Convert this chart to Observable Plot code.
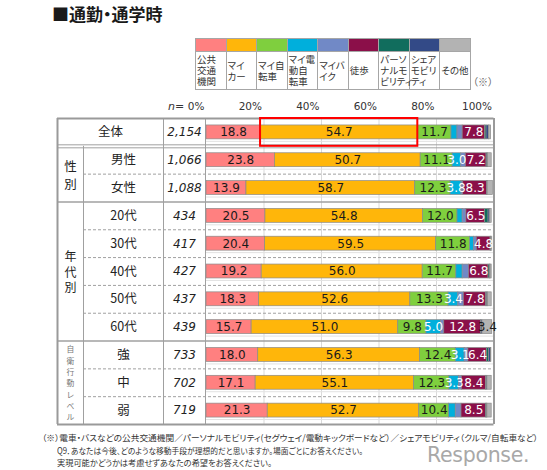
<!DOCTYPE html>
<html><head><meta charset="utf-8">
<script src="https://cdn.jsdelivr.net/npm/d3@7"></script>
<script src="https://cdn.jsdelivr.net/npm/@observablehq/plot@0.6"></script>
<style>
html,body{margin:0;padding:0;background:#fff}
body{width:547px;height:470px;position:relative;overflow:hidden;font-family:"Noto Sans CJK JP",sans-serif;font-feature-settings:"palt";color:#222}
#chart{position:absolute;left:0;top:0}
.abs{position:absolute;white-space:nowrap}
#title{left:52px;top:1px;font-size:17px;font-weight:bold;color:#1a1a1a}
#legend{position:absolute;left:195px;top:38px;border-collapse:collapse;table-layout:fixed;width:276px}
#legend td{border:1px solid #a6a6a6;padding:0 0 0 1px;font-size:9.5px;line-height:11px;vertical-align:middle;white-space:pre;overflow:visible;color:#333}
#legend tr.sw td{height:12px}
#legend tr.lb td{height:37px}
#note{left:473px;top:74px;font-size:10px;color:#666}
#nlabel{left:168px;top:101px;font-size:11px;line-height:12px;font-style:italic;font-family:"DejaVu Sans",sans-serif;color:#333}
.foot{font-size:8.5px;line-height:12.3px;color:#333;transform-origin:0 0}
#f1{left:42px;top:431px}
#f2{left:57px;top:443.6px}
#f3{left:57px;top:456.2px}
#logo{left:427px;top:449px;font-family:"DejaVu Sans",sans-serif;font-size:20.5px;line-height:12px;color:#a8a8a8;letter-spacing:-0.3px}
</style>
</head><body>
<div id="chart"></div>
<script>
// ---- data ----
const categories = ["全体","男性","女性","20代","30代","40代","50代","60代","強","中","弱"];
const sampleSizes = ["2,154","1,066","1,088","434","417","427","437","439","733","702","719"];
const groupLabels = ["性\n別","年\n代\n別","自\n衛\n行\n動\nレ\nベ\nル"];
const groupStart = [1,3,8];
const groupEnd = [3,8,11];

const modes = ["公共交通機関","マイカー","マイ自転車","マイ電動自転車","マイバイク","徒歩","パーソナルモビリティ","シェアモビリティ","その他"];
const legendLabels = ["公共\n交通\n機関","マイ\nカー","マイ自\n転車","マイ電\n動自\n転車","マイバ\nイク","徒歩","パーソ\nナルモ\nビリティ","シェア\nモビリ\nティ","その他"];
const colors = ["#ff8080","#ffb60a","#7fcf3e","#00afdc","#7189c6","#8b0f49","#116d5d","#334a87","#b3b3b3"];

const publicTransit    = [18.8,23.8,13.9,20.5,20.4,19.2,18.3,15.7,18.0,17.1,21.3];
const myCar            = [54.7,50.7,58.7,54.8,59.5,56.0,52.6,51.0,56.3,55.1,52.7];
const myBicycle        = [11.7,11.1,12.3,12.0,11.8,11.7,13.3, 9.8,12.4,12.3,10.4];
const myEBike          = [ 2.1, 3.0, 3.8, 1.8, 1.3, 2.2, 3.4, 5.0, 3.1, 3.3, 2.3];
const myMotorbike      = [ 1.8, 1.6, 0.6, 1.3, 1.0, 2.2, 1.9, 1.2, 1.3, 1.0, 2.0];
const walking          = [ 7.8, 7.2, 8.3, 6.5, 4.8, 6.8, 7.8,12.8, 6.4, 8.4, 8.5];
const personalMobility = [ 0.5, 0.3, 0.1, 1.2, 0.2, 0.5, 0.3, 0.1, 0.8, 0.2, 0.3];
const sharedMobility   = [ 0.8, 0.2, 0.1, 0.5, 0.1, 0.2, 0.3, 0.4, 0.6, 0.3, 0.2];
const other            = [ 0.8, 1.3, 1.8, 0.6, 0.3, 0.4, 1.3, 3.4, 0.2, 1.5, 1.5];

const xTicks = [0,20,40,60,80,100];
const titleText = "■通勤・通学時";
const footLines = [
  "（※）電車・バスなどの公共交通機関／パーソナルモビリティ(セグウェイ/電動キックボードなど）／シェアモビリティ（クルマ/自転車など）",
  "Q9．あなたは今後、どのような移動手段が理想的だと思いますか。場面ごとにお答えください。",
  "実現可能かどうかは考慮せずあなたの希望をお答えください。"
];

// ---- layout ----
const W = 547, H = 470;
const ML = 206, MR = 53.5, MT = 118, MB = 46;
const col = {left:57, group:83, cat:163, n:205};
const X = p => (p - ML) / (W - MR - ML) * 100; // table pixel position -> x units
const whiteLabel = new Set([3,4,5,6,7]);
const footWidths = [496, 306, 215];

const seriesValues = [publicTransit,myCar,myBicycle,myEBike,myMotorbike,walking,personalMobility,sharedMobility,other];
const segments = [];
categories.forEach((c,i) => {
  let cum = 0;
  seriesValues.forEach((vals,s) => {
    const v = vals[i];
    segments.push({row:i, s, mode:modes[s], value:v, x1:cum, x2:cum+v});
    cum += v;
  });
});
const labeled = segments.filter(d => d.value >= 3);
const rowsIdx = categories.map((c,i) => i);
const gridC = "#a0a0a0";
const nRows = categories.length;
const dashedB = [2,4,5,6,7,9,10];
const solidB = [3,8];
const gx = X((col.left+col.group)/2);

const chart = Plot.plot({
  width: W, height: H,
  marginLeft: ML, marginRight: MR, marginTop: MT, marginBottom: MB,
  x: {domain:[0,100], axis:null},
  y: {domain:[0,nRows], reverse:true, axis:null},
  color: {domain: modes, range: colors},
  style: {fontFamily:'"Noto Sans CJK JP", sans-serif', fontSize:"12.5px", color:"#222", background:"transparent", overflow:"visible"},
  marks: [
    Plot.ruleX([20,40,60,80], {y1:0, y2:nRows, stroke:"#d9d9d9", strokeWidth:1}),
    Plot.ruleY(rowsIdx, {y: i => i + 0.75, x1:0, x2:100, dy:2, stroke:"#e2e2e2"}),
    Plot.ruleY(dashedB, {x1:X(col.group), x2:100, stroke:gridC, strokeDasharray:"3,2", strokeWidth:1}),
    Plot.ruleY(solidB, {x1:X(col.left), x2:100, stroke:gridC, strokeWidth:1.5}),
    Plot.ruleY([1], {x1:X(col.left), x2:100, stroke:gridC, strokeWidth:1, dy:-1.5}),
    Plot.ruleY([1], {x1:X(col.left), x2:100, stroke:gridC, strokeWidth:1, dy:1.5}),
    Plot.ruleX([X(col.cat), X(col.n)], {y1:0, y2:nRows, stroke:gridC, strokeWidth:1}),
    Plot.ruleX([X(col.group)], {y1:1, y2:nRows, stroke:gridC, strokeWidth:1}),
    Plot.ruleY([0, nRows], {x1:X(col.left), x2:100, stroke:"#9a9a9a", strokeWidth:2}),
    Plot.ruleX([X(col.left), 100], {y1:0, y2:nRows, stroke:"#9a9a9a", strokeWidth:2}),
    Plot.rect(segments, {x1:"x1", x2:"x2", y1: d => d.row + 0.25, y2: d => d.row + 0.75, fill:"mode", stroke:"#8a8a8a", strokeWidth:0.7}),
    Plot.rect([{a: publicTransit[0], b: publicTransit[0] + myCar[0]}], {x1:"a", x2:"b", y1:0, y2:1, fill:"none", stroke:"#ff0000", strokeWidth:2}),
    Plot.text(labeled.filter(d => !whiteLabel.has(d.s)), {x: d => (d.x1+d.x2)/2, y: d => d.row + 0.5, text: d => d.value.toFixed(1), fill:"#1a1a1a", fontFamily:"DejaVu Sans", fontSize:12}),
    Plot.text(labeled.filter(d => whiteLabel.has(d.s)), {x: d => (d.x1+d.x2)/2, y: d => d.row + 0.5, text: d => d.value.toFixed(1), fill:"#ffffff", fontFamily:"DejaVu Sans", fontSize:12}),
    Plot.text(xTicks, {x: d => d, text: d => d + "%", frameAnchor:"top", lineAnchor:"bottom", textAnchor:"end", dx:-2, dy:-9, fontFamily:"DejaVu Sans", fontSize:10.5, fill:"#333"}),
    Plot.text([categories[0]], {x: X((col.left+col.cat)/2), y: 0.5, text: d => d, fill:"#222"}),
    Plot.text(rowsIdx.slice(1), {x: X((col.group+col.cat)/2), y: i => i + 0.5, text: i => categories[i], fill:"#222"}),
    Plot.text(rowsIdx, {x: X((col.cat+col.n)/2), y: i => i + 0.5, text: i => sampleSizes[i], fontFamily:"DejaVu Sans", fontStyle:"italic", fontSize:12, fill:"#222"}),
    Plot.text([0], {x: gx, y: g => (groupStart[g]+groupEnd[g])/2, text: g => groupLabels[g], lineHeight:1.45, fill:"#222", fontSize:12.5}),
    Plot.text([1], {x: gx, y: g => (groupStart[g]+groupEnd[g])/2, text: g => groupLabels[g], lineHeight:1.32, fill:"#222", fontSize:12}),
    Plot.text([2], {x: gx, y: g => (groupStart[g]+groupEnd[g])/2, text: g => groupLabels[g], lineHeight:1.45, fill:"#777", fontSize:7.8})
  ]
});
document.getElementById("chart").appendChild(chart);

function addDiv(id, cls, text){ const d = document.createElement("div"); d.id = id; d.className = cls; d.textContent = text; document.body.appendChild(d); return d; }
addDiv("title","abs",titleText);
const tbl = document.createElement("table"); tbl.id = "legend";
const tr1 = document.createElement("tr"); tr1.className = "sw";
const tr2 = document.createElement("tr"); tr2.className = "lb";
modes.forEach((m,k) => {
  const a = document.createElement("td"); a.style.background = colors[k]; tr1.appendChild(a);
  const b = document.createElement("td"); b.textContent = legendLabels[k]; tr2.appendChild(b);
});
tbl.appendChild(tr1); tbl.appendChild(tr2); document.body.appendChild(tbl);
addDiv("note","abs","（※）");
addDiv("nlabel","abs","n=");
footLines.forEach((t,k) => {
  const d = addDiv("f"+(k+1),"abs foot",t);
  const w = d.getBoundingClientRect().width;
  if (w > 0) d.style.transform = "scaleX(" + (footWidths[k]/w) + ")";
});
addDiv("logo","abs","Response.");
</script>
</body></html>
